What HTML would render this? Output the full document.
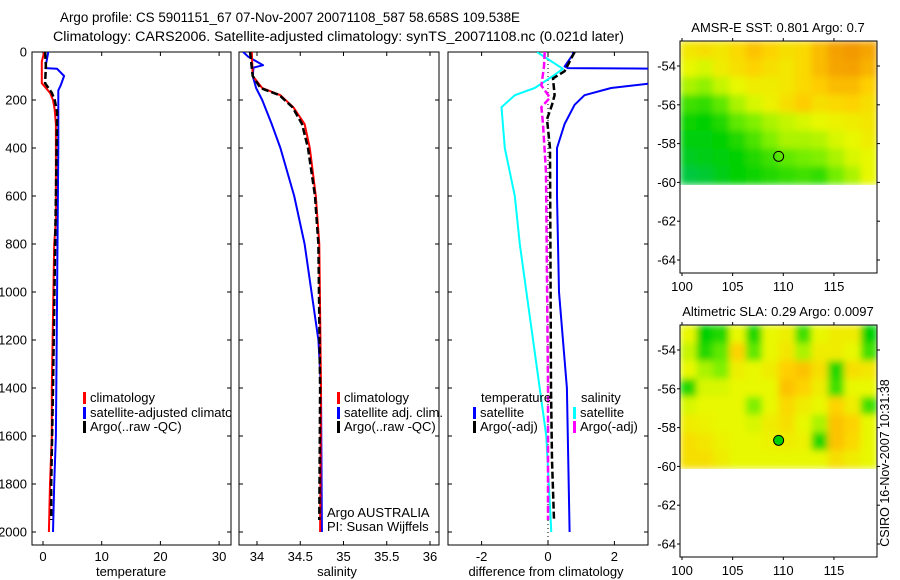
<!DOCTYPE html>
<html><head><meta charset="utf-8"><style>
body{margin:0;background:#fff}
svg{display:block;font-family:"Liberation Sans",Arial,sans-serif;font-size:12.5px}
</style></head><body>
<svg id="c" width="900" height="580" viewBox="0 0 900 580">
<text x="60" y="22" font-size="13.5" textLength="460" lengthAdjust="spacingAndGlyphs">Argo profile: CS 5901151_67 07-Nov-2007 20071108_587 58.658S 109.538E</text>
<text x="53" y="41" font-size="13.5" textLength="571" lengthAdjust="spacingAndGlyphs">Climatology: CARS2006. Satellite-adjusted climatology: synTS_20071108.nc (0.021d later)</text>
<defs>
<clipPath id="cp1"><rect x="32" y="52" width="199" height="493"/></clipPath>
<clipPath id="cp2"><rect x="239" y="52" width="200" height="493"/></clipPath>
<clipPath id="cp3"><rect x="448" y="52" width="200" height="493"/></clipPath>
<clipPath id="cm1"><rect x="680" y="41" width="197" height="144"/></clipPath>
<clipPath id="cm2"><rect x="680" y="325" width="197" height="144"/></clipPath>
<filter id="bl" x="-5%" y="-5%" width="110%" height="110%"><feGaussianBlur stdDeviation="3.5" edgeMode="duplicate"/></filter>
</defs>
<g id="g"></g>
<text transform="translate(889,463) rotate(-90)" text-anchor="middle" font-size="12.5">CSIRO 16-Nov-2007 10:31:38</text>
</svg>
<script>
// ---------- data ----------
const tDepthClim=[0,40,130,170,200,240,300,700,800,1400,1600,1800,2000];
const tClim=[0.2,-0.2,-0.2,1.2,1.7,2.0,2.2,2.2,1.9,1.5,1.5,1.2,1.0];
const tDepthSat=[0,67,70,100,140,160,400,1000,1600,1800,2000];
const tSat=[0.9,0.4,2.4,3.6,3.0,2.6,2.6,2.4,2.2,1.9,1.7];
const tDepthArgo=[0,60,130,170,200,250,600,1400,1800,1950];
const tArgo=[0.35,0.5,0.35,1.5,2.0,2.4,2.2,1.7,1.4,1.4];

const sDepthClim=[0,100,150,180,230,300,400,600,800,1400,2000];
const sClim=[33.94,33.95,34.06,34.27,34.42,34.55,34.61,34.68,34.72,34.74,34.73];
const sDepthArgo=[0,100,150,180,230,300,400,600,800,1400,1950];
const sArgo=[33.92,33.95,34.04,34.26,34.41,34.52,34.59,34.67,34.71,34.73,34.72];
const sDepthSat=[0,20,55,65,100,150,200,300,400,600,800,1000,1200,1400,2000];
const sSat=[33.84,33.9,34.07,33.96,33.95,33.99,34.06,34.17,34.27,34.43,34.55,34.63,34.71,34.74,34.75];

const dDepthTSat=[0,10,60,67,69,129,150,180,220,300,400,600,1000,1400,2000];
const dTSat=[0.75,0.75,0.5,0.6,3.2,3.2,1.9,1.1,0.8,0.5,0.27,0.27,0.33,0.57,0.65];
const dDepthSSat=[0,70,100,150,180,230,400,600,800,1000,1400,1600,2000];
const dSSat=[-0.33,0.45,0.15,-0.4,-1.0,-1.4,-1.3,-1.0,-0.85,-0.65,-0.25,-0.05,0.1];
const dDepthTArgo=[0,80,110,180,220,280,400,1400,1700,1950];
const dTArgo=[0.8,0.5,0.15,0.2,0.12,-0.03,0.06,0.09,0.12,0.18];
const dDepthSArgo=[0,60,140,190,230,300,500,1400,1950];
const dSArgo=[-0.1,-0.12,-0.2,0.06,-0.2,-0.15,-0.06,0,0];

const sstGrid=[
[.68,.70,.68,.72,.78,.74,.70,.72,.80,.86,.88,.85],
[.62,.60,.66,.70,.74,.70,.68,.72,.80,.85,.86,.82],
[.55,.52,.58,.62,.66,.66,.68,.72,.76,.80,.80,.75],
[.40,.38,.45,.55,.60,.64,.70,.76,.70,.72,.74,.70],
[.32,.30,.35,.45,.50,.55,.58,.60,.62,.64,.66,.68],
[.28,.28,.30,.35,.42,.50,.55,.55,.56,.60,.62,.66],
[.22,.25,.28,.30,.35,.40,.45,.48,.50,.55,.60,.62],
[.15,.18,.25,.30,.32,.35,.38,.40,.38,.48,.55,.62]];
const slaGrid=[
[.62,.30,.35,.62,.35,.62,.65,.40,.62,.66,.66,.30],
[.58,.35,.45,.74,.45,.62,.68,.55,.66,.66,.62,.40],
[.62,.55,.50,.65,.62,.66,.75,.78,.70,.35,.70,.68],
[.35,.60,.60,.62,.62,.62,.78,.74,.66,.40,.62,.62],
[.60,.62,.62,.62,.50,.62,.72,.66,.62,.74,.66,.40],
[.66,.64,.62,.62,.60,.66,.70,.62,.55,.78,.74,.62],
[.70,.68,.64,.62,.62,.64,.66,.64,.35,.78,.72,.62],
[.70,.70,.66,.62,.62,.62,.62,.62,.62,.70,.66,.62]];
const gridLonMin=99.8, gridLonMax=119.25, gridLatTop=-52.71, gridLatBot=-60.1;
const argoLon=109.538, argoLat=-58.658;
const depthTicks=[0,200,400,600,800,1000,1200,1400,1600,1800,2000];
const tTicks=[0,10,20,30];
const sTicks=[34,34.5,35,35.5,36];
const dTicks=[-2,0,2];
const latTicks=[-54,-56,-58,-60,-62,-64];
const lonTicks=[100,105,110,115];

// ---------- helpers ----------
const NS="http://www.w3.org/2000/svg";
const G=document.getElementById('g');
function el(tag,attrs,parent){const e=document.createElementNS(NS,tag);for(const k in attrs)e.setAttribute(k,attrs[k]);(parent||G).appendChild(e);return e;}
const yD=d=>52+d*0.24;
const x1=t=>43+t*5.87, x2=s=>257+(s-34)*86.5, x3=v=>548+v*33.2;

function frame(x0,x1_,y0,y1,name){
  const r=el('rect',{x:x0,y:y0,width:x1_-x0,height:y1-y0,fill:'none',stroke:'#000','stroke-width':1});
  
  
}
function line(xs,ds,sx,color,w,dash,clip,name){
  const pts=xs.map((v,i)=>sx(v).toFixed(1)+','+yD(ds[i]).toFixed(1)).join(' ');
  const a={points:pts,fill:'none',stroke:color,'stroke-width':w,'clip-path':'url(#'+clip+')','stroke-linejoin':'round'};
  if(dash)a['stroke-dasharray']=dash;
  const p=el('polyline',a);
  
  
}
function txt(x,y,s,anchor,name,size){
  const t=el('text',{x:x,y:y,'text-anchor':anchor||'start'});
  if(size)t.setAttribute('font-size',size);
  t.textContent=s;
  
  
  return t;
}
function panelTicks(left,right,ticks,sx,labels,panel){
  for(const d of depthTicks){const y=yD(d);
    el('line',{x1:left,y1:y,x2:left+4,y2:y,stroke:'#000'});
    el('line',{x1:right,y1:y,x2:right-4,y2:y,stroke:'#000'});
    if(labels)txt(27,y+4.5,String(d),'end','depth-tick-label',13);
  }
  for(const v of ticks){const x=sx(v);
    el('line',{x1:x,y1:545,x2:x,y2:541,stroke:'#000'});
    el('line',{x1:x,y1:52,x2:x,y2:56,stroke:'#000'});
    txt(x,561,String(v),'middle',panel+'-x-tick-label',13);
  }
}
function legendItem(x,y,color,label,name,clip){
  const r=el('rect',{x:x,y:y-10,width:3,height:12,fill:color});
  
  
  const t=txt(x+7,y,label,'start',name,13);
  if(clip)t.setAttribute('clip-path','url(#'+clip+')');
}

// ---------- panel 1: temperature ----------
frame(32,231,52,545,'temperature-panel');
panelTicks(32,231,tTicks,x1,true,'temperature');
line(tClim,tDepthClim,x1,'#ff0000',2,null,'cp1','temperature-climatology-line');
line(tSat,tDepthSat,x1,'#0000ff',2,null,'cp1','temperature-satellite-line');
line(tArgo,tDepthArgo,x1,'#000',2.5,'7,3','cp1','temperature-argo-line');
txt(131,576,'temperature','middle','temperature-axis-title',13);
legendItem(83,402,'#ff0000','climatology','legend-climatology');
legendItem(83,417,'#0000ff','satellite-adjusted climatology','legend-satellite-adjusted','cp1');
legendItem(83,431,'#000','Argo(..raw -QC)','legend-argo');

// ---------- panel 2: salinity ----------
frame(239,439,52,545,'salinity-panel');
panelTicks(239,439,sTicks,x2,false,'salinity');
line(sSat,sDepthSat,x2,'#0000ff',2,null,'cp2','salinity-satellite-line');
line(sClim,sDepthClim,x2,'#ff0000',2,null,'cp2','salinity-climatology-line');
line(sArgo,sDepthArgo,x2,'#000',2.5,'7,3','cp2','salinity-argo-line');
txt(337,576,'salinity','middle','salinity-axis-title',13);
legendItem(337,402,'#ff0000','climatology','legend-sal-climatology');
legendItem(337,417,'#0000ff','satellite adj. clim.','legend-sal-satellite');
legendItem(337,431,'#000','Argo(..raw -QC)','legend-sal-argo');
txt(327,517,'Argo AUSTRALIA','start','argo-country-label',13);
txt(327,531,'PI: Susan Wijffels','start','pi-label',13);

// ---------- panel 3: differences ----------
frame(448,648,52,545,'difference-panel');
panelTicks(448,648,dTicks,x3,false,'difference');
const zl=el('line',{x1:x3(0),y1:52,x2:x3(0),y2:545,stroke:'#000','stroke-dasharray':'1,3'});


line(dSSat,dDepthSSat,x3,'#00ffff',2,null,'cp3','salinity-satellite-diff-line');
line(dTSat,dDepthTSat,x3,'#0000ff',2,null,'cp3','temperature-satellite-diff-line');
line(dSArgo,dDepthSArgo,x3,'#ff00ff',2.5,'7,3','cp3','salinity-argo-diff-line');
line(dTArgo,dDepthTArgo,x3,'#000',2.5,'7,3','cp3','temperature-argo-diff-line');
txt(546,576,'difference from climatology','middle','difference-axis-title',13);
txt(481,402,'temperature','start','legend-temperature-heading',13);
legendItem(473,417,'#0000ff','satellite','legend-temp-satellite');
legendItem(473,431,'#000','Argo(-adj)','legend-temp-argo');
txt(581,402,'salinity','start','legend-salinity-heading',13);
legendItem(573,417,'#00ffff','satellite','legend-sal-sat-diff');
legendItem(573,431,'#ff00ff','Argo(-adj)','legend-sal-argo-diff');

// ---------- maps ----------
const stops=[[0,[0,192,128]],[0.3,[0,208,0]],[0.5,[128,240,0]],[0.62,[232,248,0]],[0.75,[255,208,0]],[0.9,[240,144,0]],[1,[220,110,0]]];
function cmap(v){for(let i=1;i<stops.length;i++){if(v<=stops[i][0]){const a=stops[i-1],b=stops[i],f=(v-a[0])/(b[0]-a[0]);return 'rgb('+a[1].map((c,k)=>Math.round(c+(b[1][k]-c)*f)).join(',')+')';}}return 'rgb(220,110,0)';}
function drawMap(top,grid,title,name,dotFill,clipId){
  const L=680,R=877,B=top+232;
  const lx=lon=>682+(lon-100)*10.13, ly=lat=>top+25+(-54-lat)*19.4;
  const rows=grid.length, cols=grid[0].length;
  const cw=(lx(gridLonMax)-lx(gridLonMin))/cols, ch=(ly(gridLatBot)-ly(gridLatTop))/rows;
  const outer=el('g',{'clip-path':'url(#'+clipId+')'});
  const cg=el('g',{filter:'url(#bl)'},outer);
  grid.forEach((row,i)=>row.forEach((v,j)=>{
    const r=el('rect',{x:(lx(gridLonMin)+j*cw).toFixed(2),y:(ly(gridLatTop)+i*ch).toFixed(2),width:(cw+0.6).toFixed(2),height:(ch+0.6).toFixed(2),fill:cmap(v)},cg);
    
    
  }));
  frame(L,R,top,B,name+'-frame');
  for(const lat of latTicks){const y=ly(lat);
    el('line',{x1:L,y1:y,x2:L-3,y2:y,stroke:'#000'});
    el('line',{x1:R,y1:y,x2:R+3,y2:y,stroke:'#000'});
    txt(676,y+4.5,String(lat),'end',name+'-lat-label',13);
  }
  for(const lon of lonTicks){const x=lx(lon);
    el('line',{x1:x,y1:top,x2:x,y2:top-3,stroke:'#000'});
    el('line',{x1:x,y1:B,x2:x,y2:B+3,stroke:'#000'});
    txt(x,B+18,String(lon),'middle',name+'-lon-label',13);
  }
  txt(778,top-9,title,'middle',name+'-title',13);
  const c=el('circle',{cx:lx(argoLon),cy:ly(argoLat),r:5,fill:dotFill,stroke:'#000','stroke-width':1});
  
  
}
drawMap(41,sstGrid,'AMSR-E SST: 0.801  Argo: 0.7','sst-map','none','cm1');
drawMap(325,slaGrid,'Altimetric SLA: 0.29  Argo: 0.0097','sla-map','#00d000','cm2');
</script>
</body></html>
